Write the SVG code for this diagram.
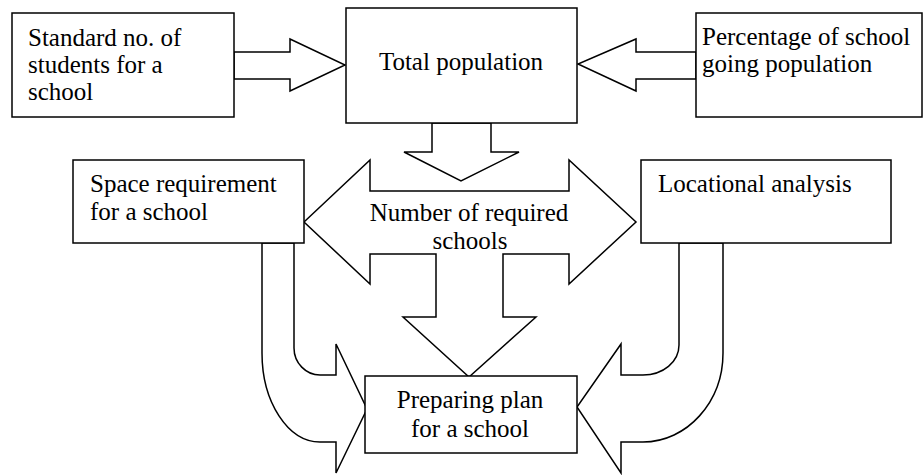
<svg xmlns="http://www.w3.org/2000/svg" width="923" height="475" viewBox="0 0 923 475">
<style>
.shape{fill:#fff;stroke:#000;stroke-width:1.5;stroke-linejoin:miter}
.t{font-family:"Liberation Serif","Times New Roman",serif;font-size:25px;fill:#000}
.c{text-anchor:middle}
</style>
<rect x="0" y="0" width="923" height="475" fill="#fff"/>
<g id="connectors">
<path class="shape" d="M234,52 H290 V39 L345,65 L290,91 V79 H234 Z"/>
<path class="shape" d="M696,52 H636 V39 L578,64 L636,91 V79 H696 Z"/>
<path class="shape" d="M432,123 V152 H404 L461,181 L519,152 H491 V123 Z"/>
<path class="shape" d="M294,243 V348 C294,363 306,375 320,375 H336 V344 L367,409 L336,473 V442 H320 C288,442 262,402 262,353 V243 Z"/>
<path class="shape" d="M679,243 V345 C679,362 663,375 643,375 H621 V344 L577,407 L621,473 V442 H643 C687,442 723,402 723,353 V243 Z"/>
</g>
<g id="n_standard">
<rect class="shape" x="12" y="13" width="222" height="104"/>
<text class="t" x="28" y="46">Standard no. of</text>
<text class="t" x="28" y="73">students for a</text>
<text class="t" x="28" y="100">school</text>
</g>
<g id="n_total">
<rect class="shape" x="346" y="8" width="231" height="115"/>
<text class="t c" x="461" y="70">Total population</text>
</g>
<g id="n_percentage">
<rect class="shape" x="696" y="13" width="226" height="104"/>
<text class="t" x="702" y="45">Percentage of school</text>
<text class="t" x="702" y="72">going population</text>
</g>
<g id="n_number">
<path class="shape" d="M304,222 L370,160 V191 H569 V160 L636,222 L569,284 V254 H503 V317 H536 L469,377 L403,317 H436 V254 H370 V284 Z"/>
<text class="t c" x="469" y="221">Number of required</text>
<text class="t c" x="470" y="249">schools</text>
</g>
<g id="n_space">
<rect class="shape" x="73" y="160" width="231" height="83"/>
<text class="t" x="90" y="192">Space requirement</text>
<text class="t" x="90" y="220">for a school</text>
</g>
<g id="n_locational">
<rect class="shape" x="641" y="160" width="250" height="83"/>
<text class="t" x="658" y="192">Locational analysis</text>
</g>
<g id="n_plan">
<rect class="shape" x="365" y="376" width="212" height="77"/>
<text class="t c" x="470" y="408">Preparing plan</text>
<text class="t c" x="470" y="437">for a school</text>
</g>
</svg>
